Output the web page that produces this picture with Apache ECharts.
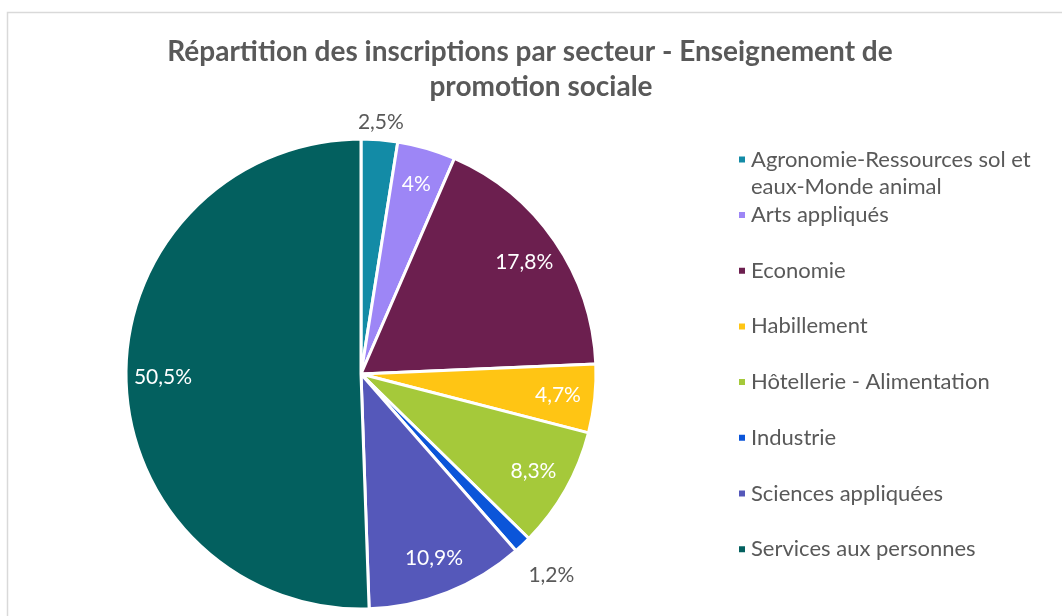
<!DOCTYPE html>
<html><head><meta charset="utf-8">
<script src="https://cdn.jsdelivr.net/npm/echarts@6/dist/echarts.min.js"></script>
<style>html,body{margin:0;padding:0;background:#fff}#c{width:1062px;height:616px}</style>
</head><body><div id="c"></div>
<script>
const categories = ['Agronomie-Ressources sol et eaux-Monde animal','Arts appliqués','Economie','Habillement','Hôtellerie - Alimentation','Industrie','Sciences appliquées','Services aux personnes'];
const shares = [2.5, 4, 17.8, 4.7, 8.3, 1.2, 10.9, 50.5];
const colors = ['#138BA6','#9D86F6','#6C1F4F','#FFC514','#A5C93A','#0B55D9','#5558BA','#03605F'];
const titleLines = ['Répartition des inscriptions par secteur - Enseignement de','promotion sociale'];
const nearOutside = ['Agronomie-Ressources sol et eaux-Monde animal'];
const farOutside = ['Industrie'];

const FONT = 'Lato';
const R = 235, C = [361, 374];
const fmt = v => String(v).replace('.', ',') + '%';
const mainData = categories.map((n,i)=>({name:n, value:shares[i], itemStyle:{color:colors[i]}}));
function labelSeries(radius, names, color){
  return {type:'pie', center:C, radius:radius, silent:true, startAngle:90, animation:false,
    itemStyle:{color:'transparent', borderWidth:0}, labelLine:{show:false}, emphasis:{disabled:true},
    data: categories.map((n,i)=>({name:n, value:shares[i], label:{show: names.indexOf(n)>=0}})),
    label:{position:'inside', color:color, fontFamily:FONT, fontSize:21, formatter:p=>fmt(p.value)}};
}
const insideNames = categories.filter(n=>nearOutside.indexOf(n)<0 && farOutside.indexOf(n)<0);
const titleStyle = {fontFamily:FONT, fontSize:28, fontWeight:'bold', color:'#595959'};

const chart = echarts.init(document.getElementById('c'), null, {renderer:'canvas'});
chart.setOption({
  animation:false,
  color: colors,
  graphic:[{type:'rect', shape:{x:7.5,y:12.5,width:1200,height:800}, style:{fill:'none', stroke:'#d9d9d9', lineWidth:1.5}, silent:true}],
  title:[
    {text:titleLines[0], left:530, textAlign:'center', top:38, padding:0, textStyle:titleStyle},
    {text:titleLines[1], left:541, textAlign:'center', top:73, padding:0, textStyle:titleStyle}
  ],
  legend:[
    {orient:'vertical', left:737, top:119, padding:0, itemWidth:8, itemHeight:8, icon:'rect', itemGap:0,
     data:[categories[0]], formatter:()=>'\nAgronomie-Ressources sol et\neaux-Monde animal',
     textStyle:{fontFamily:FONT, fontSize:22, color:'#595959', lineHeight:27}},
    {orient:'vertical', left:737, top:201, padding:0, itemWidth:8, itemHeight:8, icon:'rect', itemGap:27.7,
     data:categories.slice(1),
     textStyle:{fontFamily:FONT, fontSize:22, color:'#595959', lineHeight:28}}
  ],
  series:[
    {type:'pie', center:C, radius:R, startAngle:90, clockwise:true, data:mainData,
     itemStyle:{borderColor:'#fff', borderWidth:3}, label:{show:false}, labelLine:{show:false}, emphasis:{disabled:true}},
    labelSeries([R*0.66, R], insideNames, '#ffffff'),
    labelSeries([R, R+30], nearOutside, '#595959'),
    labelSeries([R, R+78], farOutside, '#595959')
  ]
});
</script></body></html>
